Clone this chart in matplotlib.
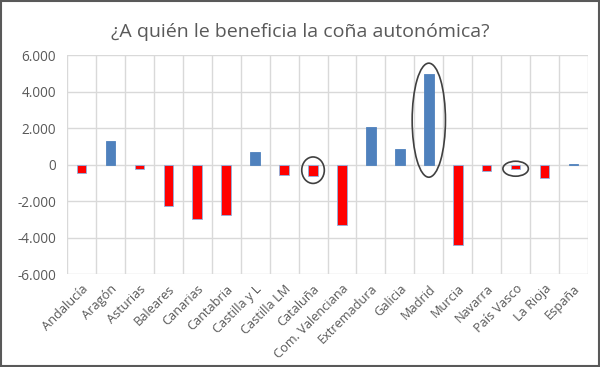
import matplotlib
matplotlib.use("Agg")
import matplotlib.pyplot as plt
from matplotlib.patches import Ellipse, Rectangle
from matplotlib.ticker import FuncFormatter

regions = ["Andalucía", "Aragón", "Asturias", "Baleares", "Canarias", "Cantabria",
           "Castilla y L", "Castilla LM", "Cataluña", "Com. Valenciana", "Extremadura",
           "Galicia", "Madrid", "Murcia", "Navarra", "País Vasco", "La Rioja", "España"]
saldo = [-450, 1300, -220, -2250, -3000, -2750, 680, -600, -620, -3300, 2030,
         840, 4950, -4430, -350, -250, -760, 40]

# regions highlighted with a hand drawn ellipse: (index, centre y, width, height)
circled = [(8, -310, 0.78, 1450), (12, 2430, 1.15, 6250), (15, -230, 0.88, 820)]

plt.rcParams['font.family'] = ['Open Sans', 'DejaVu Sans']

fig = plt.figure(figsize=(6.0, 3.67), dpi=100)
ax = fig.add_axes([0.1117, 0.2534, 0.8683, 0.5966])

x = list(range(len(regions)))
colors = ['#4F81BD' if v >= 0 else '#FF0000' for v in saldo]
edges = ['#4F81BD' if v >= 0 else '#8DB3E2' for v in saldo]
ax.bar(x, saldo, width=0.33, color=colors, edgecolor=edges, linewidth=0.6, zorder=3)

ax.set_xlim(-0.5, len(regions) - 0.5)
ax.set_ylim(-6000, 6000)
ax.set_yticks(range(-6000, 6001, 2000))
ax.yaxis.set_major_formatter(FuncFormatter(lambda v, p: "{:,.0f}".format(v).replace(",", ".")))
ax.set_xticks(x)
ax.set_xticklabels(regions, rotation=45, ha='right', rotation_mode='anchor')
ax.tick_params(axis='both', length=0, colors='#595959')
ax.tick_params(axis='x', pad=6, labelsize=9.2)
ax.tick_params(axis='y', pad=8, labelsize=9.8)

ax.grid(axis='y', color='#D9D9D9', linewidth=1, zorder=0)
for b in range(len(regions) + 1):
    ax.axvline(b - 0.5, color='#D9D9D9', linewidth=1, zorder=0)
for s in ax.spines.values():
    s.set_visible(False)

for i, cy, w, h in circled:
    ax.add_patch(Ellipse((i, cy), w, h, fill=False, edgecolor='#404040', linewidth=1.2, zorder=4))

fig.text(0.5, 0.912, "¿A quién le beneficia la coña autonómica?", ha='center', va='center',
         fontsize=14, color='#595959')

fig.patches.append(Rectangle((0.0015, 0.0025), 0.997, 0.995, transform=fig.transFigure,
                             fill=False, edgecolor='#595959', linewidth=1.5))

fig.savefig("out.png", dpi=100)
